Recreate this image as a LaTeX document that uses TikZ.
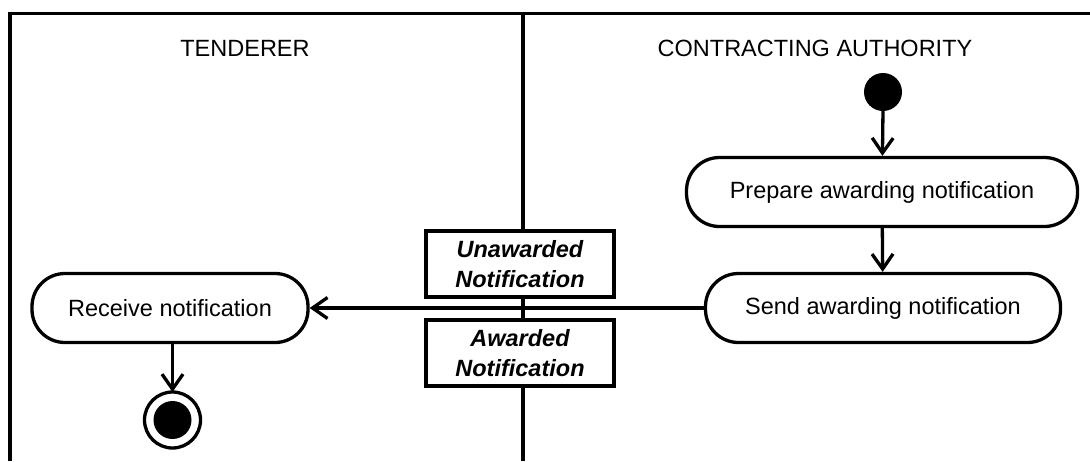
\documentclass[tikz,border=0pt]{standalone}
\usepackage{fontspec}
\setmainfont{Liberation Sans}
\usetikzlibrary{arrows.meta}

\begin{document}
\begin{tikzpicture}[x=1pt, y=-1pt, line width=3.3pt,
  activity/.style={draw, rounded corners=33pt, minimum height=69pt, inner sep=0pt,
    font=\fontsize{23.5}{28}\selectfont},
  objbox/.style={draw, fill=white, minimum width=188pt, minimum height=66pt, inner sep=0pt,
    align=center, font=\fontsize{23.5}{30}\selectfont\bfseries\itshape},
  lanehead/.style={font=\fontsize{23.5}{28}\selectfont},
  flow/.style={-{Straight Barb[length=15pt,width=21pt]}}]
\useasboundingbox (0,0) rectangle (1090,461);
% swimlanes
\draw (10,461) -- (10,13.5) -- (1090,13.5);
\draw (523,13.5) -- (523,461);
\node[lanehead] (tenderer) at (245,48) {TENDERER};
\node[lanehead] (authority) at (815,48) {CONTRACTING AUTHORITY};
% actions
\fill (883,92) circle (19pt);
\coordinate (start) at (883,110);
\node[activity, minimum width=391pt] (prepare) at (882,192) {Prepare awarding notification};
\node[activity, minimum width=355pt] (send) at (883,308) {Send awarding notification};
\node[activity, minimum width=276pt] (receive) at (170,308) {Receive notification};
\draw (172.5,420) circle (28pt);
\fill (172.5,420) circle (19pt);
\coordinate (final) at (172.5,392);
% flows
\draw[flow] (start) -- (prepare);
\draw[flow] (prepare) -- (send);
\draw[flow] (send) -- (receive);
\draw[flow] (receive.south -| final) -- (final);
% objects
\node[objbox] (unawarded) at (520,264) {Unawarded\\Notification};
\node[objbox] (awarded) at (520,353) {Awarded\\Notification};
\end{tikzpicture}
\end{document}
